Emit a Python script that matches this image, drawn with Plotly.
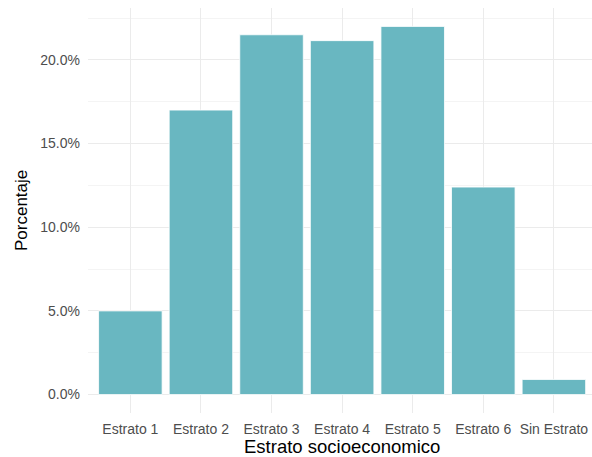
import plotly.graph_objects as go

categories = ["Estrato 1", "Estrato 2", "Estrato 3", "Estrato 4", "Estrato 5", "Estrato 6", "Sin Estrato"]
porcentaje = [0.050, 0.170, 0.215, 0.2115, 0.220, 0.124, 0.009]
y_ticks = [0.0, 0.05, 0.10, 0.15, 0.20]
y_tick_labels = ["0.0%", "5.0%", "10.0%", "15.0%", "20.0%"]
y_minor = [0.025, 0.075, 0.125, 0.175, 0.225]

BAR = "#69B7C1"
TXT = "#4D4D4D"
FONT = "Liberation Sans, Arial, Helvetica, sans-serif"

W, H = 592, 457
L, R, T, B = 88, 0, 8, 44
pw = W - L - R
ph = H - T - B

fig = go.Figure(go.Bar(
    x=categories, y=porcentaje,
    marker=dict(color=BAR, line=dict(color="white", width=0.8)),
    width=0.9,
))

fig.update_layout(
    width=W, height=H,
    margin=dict(l=L, r=R, t=T, b=B, pad=0),
    plot_bgcolor="white", paper_bgcolor="white",
    showlegend=False,
    font=dict(family=FONT, color=TXT, size=14),
    bargap=0.1,
)
fig.update_xaxes(
    type="category", range=[-0.6, 6.54],
    showgrid=True, gridcolor="#EBEBEB", gridwidth=1.4,
    showline=False, zeroline=False, ticks="",
    tickfont=dict(size=14, color=TXT),
    ticklabelstandoff=6, automargin=False,
)
fig.update_yaxes(
    range=[-0.011, 0.231],
    tickvals=y_ticks, ticktext=y_tick_labels,
    showgrid=True, gridcolor="#EBEBEB", gridwidth=1.4,
    minor=dict(tickvals=y_minor, showgrid=True, gridcolor="#F4F4F4", gridwidth=1),
    showline=False, zeroline=False, ticks="",
    tickfont=dict(size=14, color=TXT),
    ticklabelstandoff=7, automargin=False,
)

fig.add_annotation(
    text="Estrato socioeconomico", xref="paper", yref="paper",
    x=(342 - L) / pw, y=(H - B - 446) / ph, xanchor="center", yanchor="middle",
    showarrow=False, borderpad=0, font=dict(size=18.5, color="black", family=FONT),
)
fig.add_annotation(
    text="Porcentaje", xref="paper", yref="paper",
    x=(21 - L) / pw, y=(H - B - 211) / ph, xanchor="center", yanchor="middle",
    textangle=-90, showarrow=False, borderpad=0, font=dict(size=17, color="black", family=FONT),
)

fig.write_html(
    "out.html",
    config={"displayModeBar": False},
    post_script="document.body.style.margin='0';document.body.style.overflow='hidden';",
)
